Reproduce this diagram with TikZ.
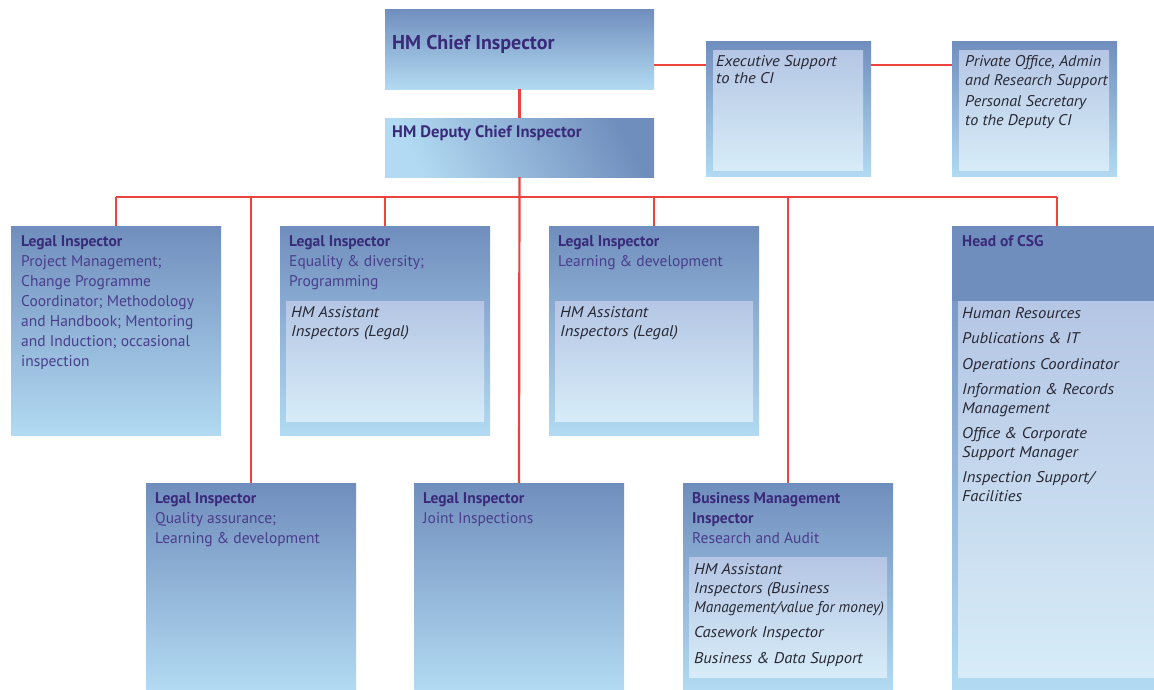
\documentclass[tikz,border=0pt]{standalone}
\usepackage{fontspec}
\setmainfont{PT Sans}
\newfontfamily\itwide{PT Sans}[FakeStretch=1.07]
\newfontfamily\itmid{PT Sans}[FakeStretch=1.04]
\definecolor{btop}{RGB}{112,142,189}
\definecolor{bbot}{RGB}{178,218,242}
\definecolor{itop}{RGB}{180,198,228}
\definecolor{ibot}{RGB}{215,236,248}
\definecolor{hdc}{RGB}{58,42,122}
\definecolor{txc}{RGB}{74,62,140}
\definecolor{itc}{RGB}{40,40,52}
\definecolor{lnc}{RGB}{234,68,60}
\begin{document}
\begin{tikzpicture}[x=1pt,y=-1pt,
  box/.style={rectangle, inner sep=0pt, outer sep=0pt, draw=none, anchor=north west, top color=btop, bottom color=bbot},
  inbox/.style={rectangle, inner sep=0pt, outer sep=0pt, draw=none, anchor=north west, top color=itop, bottom color=ibot},
  hdbox/.style={rectangle, inner sep=0pt, outer sep=0pt, draw=none, anchor=north west, fill=btop},
  txt/.style={inner sep=0pt, anchor=north west, align=left, text=txc, font=\fontsize{15.5}{20}\selectfont},
  ittxt/.style={inner sep=0pt, anchor=north west, align=left, text=itc, font=\itwide\fontsize{15.5}{19}\selectfont\itshape},
  conn/.style={draw=lnc, line width=2.2pt}]
\useasboundingbox (0,0) rectangle (1154,689);
% top boxes
\node[box, minimum width=269pt, minimum height=80pt] (chief) at (385,9) {};
\node[box, minimum width=269pt, minimum height=59pt, shading angle=-62] (deputy) at (385,118) {};
\node[box, minimum width=165pt, minimum height=135pt] (exec) at (706,41) {};
\node[inbox, minimum width=150pt, minimum height=120pt] (execin) at (713,50) {};
\node[box, minimum width=165pt, minimum height=135pt] (priv) at (952,41) {};
\node[inbox, minimum width=150pt, minimum height=120pt] (privin) at (959,50) {};
% row 1
\node[box, minimum width=210pt, minimum height=209pt] (A) at (11,226) {};
\node[box, minimum width=210pt, minimum height=209pt] (B) at (280,226) {};
\node[inbox, minimum width=198pt, minimum height=120pt] (Bin) at (286,301) {};
\node[box, minimum width=210pt, minimum height=209pt] (C) at (549,226) {};
\node[inbox, minimum width=198pt, minimum height=120pt] (Cin) at (555,301) {};
\node[box, minimum width=210pt, minimum height=463pt] (csg) at (952,226) {};
\node[hdbox, minimum width=210pt, minimum height=75pt] (csghd) at (952,226) {};
\node[inbox, minimum width=198pt, minimum height=376pt] (csgin) at (958,301) {};
% row 2
\node[box, minimum width=210pt, minimum height=206pt] (D) at (146,483) {};
\node[box, minimum width=210pt, minimum height=206pt] (E) at (414,483) {};
\node[box, minimum width=210pt, minimum height=206pt] (F) at (683,483) {};
\node[inbox, minimum width=198pt, minimum height=120pt] (Fin) at (689,557) {};
% connectors
\coordinate (bus) at (0,197);
\coordinate (ey) at (0,65);
\draw[conn] (chief.south) -- (deputy.north);
\draw[conn] (chief.east |- ey) -- (exec.west |- ey);
\draw[conn] (exec.east |- ey) -- (priv.west |- ey);
\draw[conn] (A.north |- bus) -- (csg.north |- bus);
\draw[conn] (deputy.south) -- (E.north);
\draw[conn] (A.north) -- (A.north |- bus);
\draw[conn] (B.north) -- (B.north |- bus);
\draw[conn] (C.north) -- (C.north |- bus);
\draw[conn] (csg.north) -- (csg.north |- bus);
\draw[conn] (D.north) -- (D.north |- bus);
\draw[conn] (F.north) -- (F.north |- bus);
% texts
\node[inner sep=0pt, anchor=north west, text=hdc, font=\fontsize{20}{24}\selectfont\bfseries] (tchief) at (392,35) {HM Chief Inspector};
\node[inner sep=0pt, anchor=north west, text=hdc, font=\fontsize{16.6}{18}\selectfont\bfseries] (tdep) at (392,125) {HM Deputy Chief Inspector};
\node[ittxt, font=\itwide\fontsize{15.5}{17.5}\selectfont\itshape] (texec) at (716,55) {Executive Support\\to the CI};
\node[ittxt, font=\itmid\fontsize{15.5}{19}\selectfont\itshape] (tpriv) at (965,55) {Private Office, Admin\\and Research Support\\[2pt]Personal Secretary\\to the Deputy CI};
\node[txt] (tA) at (21,235) {{\bfseries\color{hdc}Legal Inspector}\\Project Management;\\Change Programme\\Coordinator; Methodology\\and Handbook; Mentoring\\and Induction; occasional\\inspection};
\node[txt] (tB) at (289,235) {{\bfseries\color{hdc}Legal Inspector}\\Equality \& diversity;\\Programming};
\node[ittxt] (tBin) at (291,306) {HM Assistant\\Inspectors (Legal)};
\node[txt] (tC) at (558,235) {{\bfseries\color{hdc}Legal Inspector}\\Learning \& development};
\node[ittxt] (tCin) at (560,306) {HM Assistant\\Inspectors (Legal)};
\node[txt] (tcsg) at (962,235) {{\bfseries\color{hdc}Head of CSG}};
\node[ittxt, font=\itwide\fontsize{15.5}{18.5}\selectfont\itshape] (tcsgin) at (962,307) {Human Resources\\[7pt]Publications \& IT\\[7pt]Operations Coordinator\\[7pt]Information \& Records\\Management\\[7pt]Office \& Corporate\\Support Manager\\[7pt]Inspection Support/\\Facilities};
\node[txt] (tD) at (155,492) {{\bfseries\color{hdc}Legal Inspector}\\Quality assurance;\\Learning \& development};
\node[txt] (tE) at (423,492) {{\bfseries\color{hdc}Legal Inspector}\\Joint Inspections};
\node[txt] (tF) at (692,492) {{\bfseries\color{hdc}Business Management}\\{\bfseries\color{hdc}Inspector}\\Research and Audit};
\node[ittxt] (tFin) at (694,563) {HM Assistant\\Inspectors (Business\\{\fontspec{PT Sans}[FakeStretch=0.99]\itshape Management/value for money)}\\[6.5pt]Casework Inspector\\[6.5pt]Business \& Data Support};
\end{tikzpicture}
\end{document}
